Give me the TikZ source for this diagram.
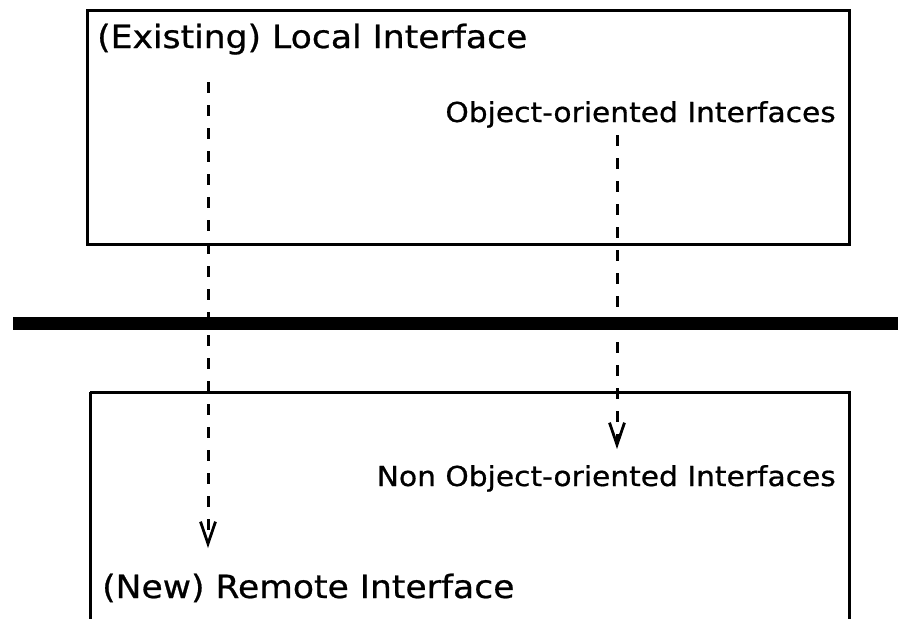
\documentclass[tikz,border=0pt]{standalone}
\usepackage{fontspec}
\usetikzlibrary{arrows.meta}
\newfontfamily\lblfont[FakeStretch=1.08,FakeBold=0.7]{DejaVu Sans}
\tikzset{
  panel/.style={draw=black, line width=3pt},
  divider/.style={line width=13pt, black},
  flow/.style={line width=3pt, dash pattern=on 11pt off 12pt,
    -{Straight Barb[length=22pt,width=15pt,line width=2.8pt]}},
  bigtext/.style={inner sep=0pt, font=\lblfont\fontsize{32}{36}\selectfont},
  smalltext/.style={inner sep=0pt, font=\lblfont\fontsize{27.5}{31}\selectfont},
}
\begin{document}
\begin{tikzpicture}[x=1pt, y=-1pt]
  \useasboundingbox[fill=white] (0,0) rectangle (898,619);

  % upper and lower panels
  \draw[panel] (87,10) rectangle (849,244);
  \draw[panel] (90,392) -- (849,392) -- (849,640);
  \draw[panel] (90,392) -- (90,640);

  % separating bar
  \draw[divider] (13,323.5) -- (898,323.5);

  % labels
  \node[bigtext, anchor=base west] (local) at (97,48) {(Existing) Local Interface};
  \node[bigtext, anchor=base west] (remote) at (102,598) {(New) Remote Interface};
  \node[smalltext, anchor=base east] (oo) at (836,122) {Object-oriented Interfaces};
  \node[smalltext, anchor=base east] (nonoo) at (836,486) {Non Object-oriented Interfaces};

  % connector ends
  \coordinate (lstart) at (208,82);
  \coordinate (lend) at (208,548);
  \coordinate (rstart) at (617,135);
  \coordinate (rend) at (617,449);

  \draw[flow] (lstart) -- (lend);
  \draw[flow] (rstart) -- (rend);
\end{tikzpicture}
\end{document}
